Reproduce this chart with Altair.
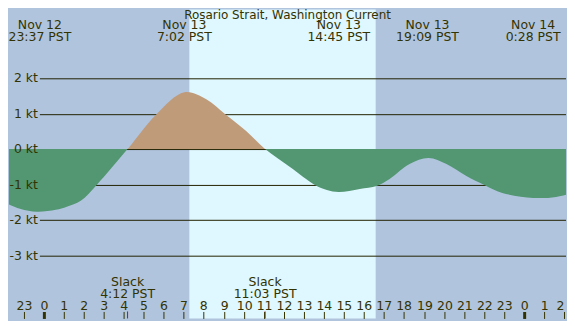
import altair as alt
import pandas as pd

# ---------------- data ----------------
hours = [-2.2, -1.2, -0.35, 0.6, 1.18, 1.84, 2.67, 4.2, 5.66, 7.03, 8.15, 9.06,
         10.14, 11.05, 12.3, 13.55, 14.13, 14.75, 15.79, 16.62, 17.28, 18.28,
         19.2, 20.1, 21.1, 22.0, 22.92, 24.45, 25.58, 26.6]
knots = [-1.44, -1.68, -1.78, -1.72, -1.64, -1.46, -1.01, 0.0, 0.99, 1.61, 1.41, 0.99,
         0.52, 0.0, -0.52, -1.01, -1.16, -1.2, -1.13, -1.03, -0.85, -0.42,
         -0.25, -0.42, -0.75, -1.01, -1.25, -1.37, -1.34, -1.21]

event_hours = [-0.383, 7.033, 14.75, 19.15, 24.467]
event_days = ["Nov 12", "Nov 13", "Nov 13", "Nov 13", "Nov 14"]
event_times = ["23:37 PST", "7:02 PST", "14:45 PST", "19:09 PST", "0:28 PST"]

slack_hours = [4.2, 11.05]
slack_names = ["Slack", "Slack"]
slack_times = ["4:12 PST", "11:03 PST"]

day_start = [7.27]
day_end = [16.585]

kt_top = [2, 1]
kt_bottom = [0, -1, -2, -3]
hour_ticks = list(range(-1, 27))

title_text = "Rosario Strait, Washington Current"

# ---------------- styling ----------------
NIGHT = "#b0c4de"
DAY = "#dff7fe"
GREEN = "#529672"
TAN = "#c09b7a"
INK = "#333300"
LINE = "#222200"
FONT = "DejaVu Sans"

W = 559
H_TOP = 140
H_BOT = 170
PX_PER_KT = 35.5
X_DOMAIN = [-1.7267, 26.09]
LABEL_X = 29
GRID_X = 31

curve = pd.DataFrame({"h": hours, "v": knots})
day_df = pd.DataFrame({"h": day_start, "h2": day_end})
events = pd.DataFrame({"h": event_hours,
                       "label": [d + "\n" + t for d, t in zip(event_days, event_times)]})
slacks = pd.DataFrame({"h": slack_hours,
                       "label": [n + "\n" + t for n, t in zip(slack_names, slack_times)]})
top_kt = pd.DataFrame({"v": kt_top, "label": [f"{k} kt" for k in kt_top]})
bot_kt = pd.DataFrame({"v": kt_bottom, "label": [f"{k} kt" for k in kt_bottom]})

xs = alt.Scale(domain=X_DOMAIN, nice=False, zero=False, round=True)
ys_top = alt.Scale(domain=[0, H_TOP / PX_PER_KT], nice=False, zero=False, round=True)
ys_bot = alt.Scale(domain=[-H_BOT / PX_PER_KT, 0], nice=False, zero=False, round=True)

hour_axis = alt.Axis(
    orient="top", offset=-H_BOT, values=hour_ticks, title=None, domain=False, grid=False,
    labelExpr="(datum.value + 24) % 24", labelFont=FONT, labelFontSize=12.5,
    labelColor=INK, labelPadding=1.5, labelBaseline="alphabetic", labelFlush=False,
    labelOverlap=False, labelBound=False,
    labelAlign={"condition": {"test": "datum.value > 25.5", "value": "right"}, "value": "center"},
    tickSize=7, tickColor=INK,
    tickWidth={"condition": {"test": "datum.value % 24 === 0", "value": 3}, "value": 1},
    zindex=1,
)

Xn = alt.X("h:Q", scale=xs, axis=None)
Xa = alt.X("h:Q", scale=xs, axis=hour_axis)

ev_style = dict(align="center", baseline="alphabetic", font=FONT, fontSize=12.5,
                color=INK, lineBreak="\n", lineHeight=11.7)

# ---------------- top panel (above zero) ----------------
t_day = alt.Chart(day_df).mark_rect(color=DAY).encode(x=Xn, x2="h2:Q")
t_grid = alt.Chart(top_kt).mark_rule(color=LINE, strokeWidth=1, yOffset=0.5).encode(
    y=alt.Y("v:Q", scale=ys_top, axis=None), x=alt.value(GRID_X), x2=alt.value(W))
t_area = alt.Chart(curve).mark_area(color=TAN, interpolate="catmull-rom", clip=True).encode(
    x=Xn, y=alt.Y("v:Q", scale=ys_top, axis=None), y2=alt.Y2Datum(0))
t_lab = alt.Chart(top_kt).mark_text(align="right", baseline="middle", font=FONT,
                                    fontSize=12.5, color=INK).encode(
    y=alt.Y("v:Q", scale=ys_top, axis=None), x=alt.value(LABEL_X), text="label:N")
t_title = alt.Chart(pd.DataFrame({"t": [title_text]})).mark_text(
    align="center", baseline="top", font=FONT, fontSize=12, color=INK).encode(
    x=alt.value(279.5), y=alt.value(0), text="t:N")
t_event0 = alt.Chart(events.iloc[:1]).mark_text(dx=4, **ev_style).encode(
    x=Xn, y=alt.value(20), text="label:N")
t_events = alt.Chart(events.iloc[1:]).mark_text(**ev_style).encode(
    x=Xn, y=alt.value(20), text="label:N")

top = alt.layer(t_day, t_grid, t_area, t_lab, t_title, t_event0, t_events).properties(
    width=W, height=H_TOP)

# ---------------- bottom panel (below zero) ----------------
b_day = alt.Chart(day_df).mark_rect(color=DAY).encode(x=Xa, x2="h2:Q")
b_grid = alt.Chart(bot_kt).mark_rule(color=LINE, strokeWidth=1, yOffset=0.5).encode(
    y=alt.Y("v:Q", scale=ys_bot, axis=None), x=alt.value(GRID_X), x2=alt.value(W))
b_area = alt.Chart(curve).mark_area(color=GREEN, interpolate="catmull-rom", clip=True).encode(
    x=Xa, y=alt.Y("v:Q", scale=ys_bot, axis=None), y2=alt.Y2Datum(0))
b_lab = alt.Chart(bot_kt).mark_text(
    align="right", baseline="middle", font=FONT, fontSize=12.5, color=INK).encode(
    y=alt.Y("v:Q", scale=ys_bot, axis=None), x=alt.value(LABEL_X), text="label:N")
b_slack = alt.Chart(slacks).mark_text(
    align="center", baseline="alphabetic", font=FONT, fontSize=12.5, color=INK,
    lineBreak="\n", lineHeight=12).encode(x=Xa, y=alt.value(137.5), text="label:N")
b_red = alt.Chart(slacks).mark_rule(color="#dd0000", strokeWidth=1).encode(
    x=Xa, y=alt.value(H_BOT - 7), y2=alt.value(H_BOT))

bottom = alt.layer(b_day, b_grid, b_area, b_lab, b_slack, b_red).properties(
    width=W, height=H_BOT)

chart = alt.vconcat(top, bottom, spacing=0, bounds="flush").properties(
    padding=0, background=NIGHT
).configure_view(stroke=None).configure_concat(spacing=0)

chart.save("out.html", embed_options={"renderer": "svg", "actions": False})
